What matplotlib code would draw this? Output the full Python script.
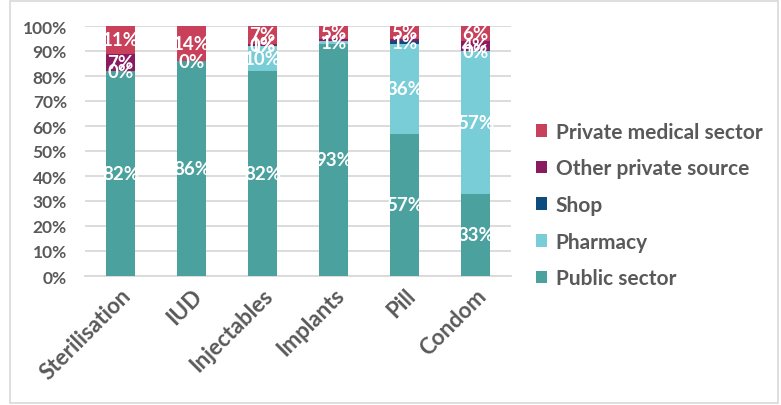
import matplotlib.pyplot as plt
import matplotlib.patches as mpatches
import numpy as np

plt.rcParams['font.family'] = ['Lato', 'DejaVu Sans']

methods = ["Sterilisation", "IUD", "Injectables", "Implants", "Pill", "Condom"]

# stacked from bottom to top
public_sector = [82, 86, 82, 93, 57, 33]
pharmacy = [0, 0, 10, 1, 36, 57]
shop = [0, 0, 0, 0, 1, 0]
other_private = [7, 0, 1, 1, 1, 4]
private_medical = [11, 14, 7, 5, 5, 6]

series_names = ["Public sector", "Pharmacy", "Shop", "Other private source", "Private medical sector"]
series_values = [public_sector, pharmacy, shop, other_private, private_medical]
series_colors = ["#4BA19E", "#78CDD7", "#0E4C7E", "#8A1B61", "#C8405A"]

# which segments carry a data label (reference hides a few)
show_label = [
    [True, True, True, True, True, True],
    [True, True, True, True, True, True],
    [False, False, True, False, True, True],
    [True, False, True, False, False, True],
    [True, True, True, True, True, True],
]

fig = plt.figure(figsize=(7.81, 4.06), dpi=100)
ax = fig.add_axes([85 / 781, 1 - 277 / 406, (511 - 85) / 781, 250 / 406])

x = np.arange(len(methods))
bottom = np.zeros(len(methods))
handles = []
for name, vals, col, shows in zip(series_names, series_values, series_colors, show_label):
    vals = np.array(vals, dtype=float)
    b = ax.bar(x, vals, 0.4, bottom=bottom, color=col, label=name, zorder=3)
    handles.append(b)
    for i in range(len(methods)):
        if shows[i]:
            ax.text(x[i], bottom[i] + vals[i] / 2, "%d%%" % vals[i], ha="center", va="center",
                    color="white", fontsize=13.5, fontweight="bold", zorder=4)
    bottom += vals

ax.set_xlim(-0.5, len(methods) - 0.5)
ax.set_ylim(0, 100)
ax.set_yticks(np.arange(0, 101, 10))
ax.set_yticklabels(["%d%%" % v for v in range(0, 101, 10)])
ax.yaxis.grid(True, color="#D9D9D9", linewidth=1.3, zorder=0)
ax.set_axisbelow(True)
for s in ["top", "right", "left"]:
    ax.spines[s].set_visible(False)
ax.spines["bottom"].set_color("#D9D9D9")
ax.spines["bottom"].set_linewidth(1.3)
ax.tick_params(axis="both", length=0, labelcolor="#595959", labelsize=12.5)
ax.tick_params(axis="y", pad=13)
ax.tick_params(axis="x", pad=6)
ax.set_xticks(x)
ax.set_xticklabels(methods, rotation=45, ha="right", rotation_mode="anchor", fontweight="bold", fontsize=16)
for lbl in ax.get_yticklabels():
    lbl.set_fontweight("bold")

leg = fig.legend(handles[::-1], series_names[::-1], loc="center left", bbox_to_anchor=(517 / 781, 1 - 206 / 406),
                 frameon=False, fontsize=15, handlelength=0.55, handleheight=0.55, handletextpad=0.4,
                 labelspacing=0.8)
for t in leg.get_texts():
    t.set_color("#595959")
    t.set_fontweight("bold")

fig.patches.append(mpatches.Rectangle((10 / 781, 2 / 406), 768 / 781, 402 / 406, transform=fig.transFigure,
                                      fill=False, edgecolor="#D9D9D9", linewidth=1.2))

fig.savefig("out.png", dpi=100)
